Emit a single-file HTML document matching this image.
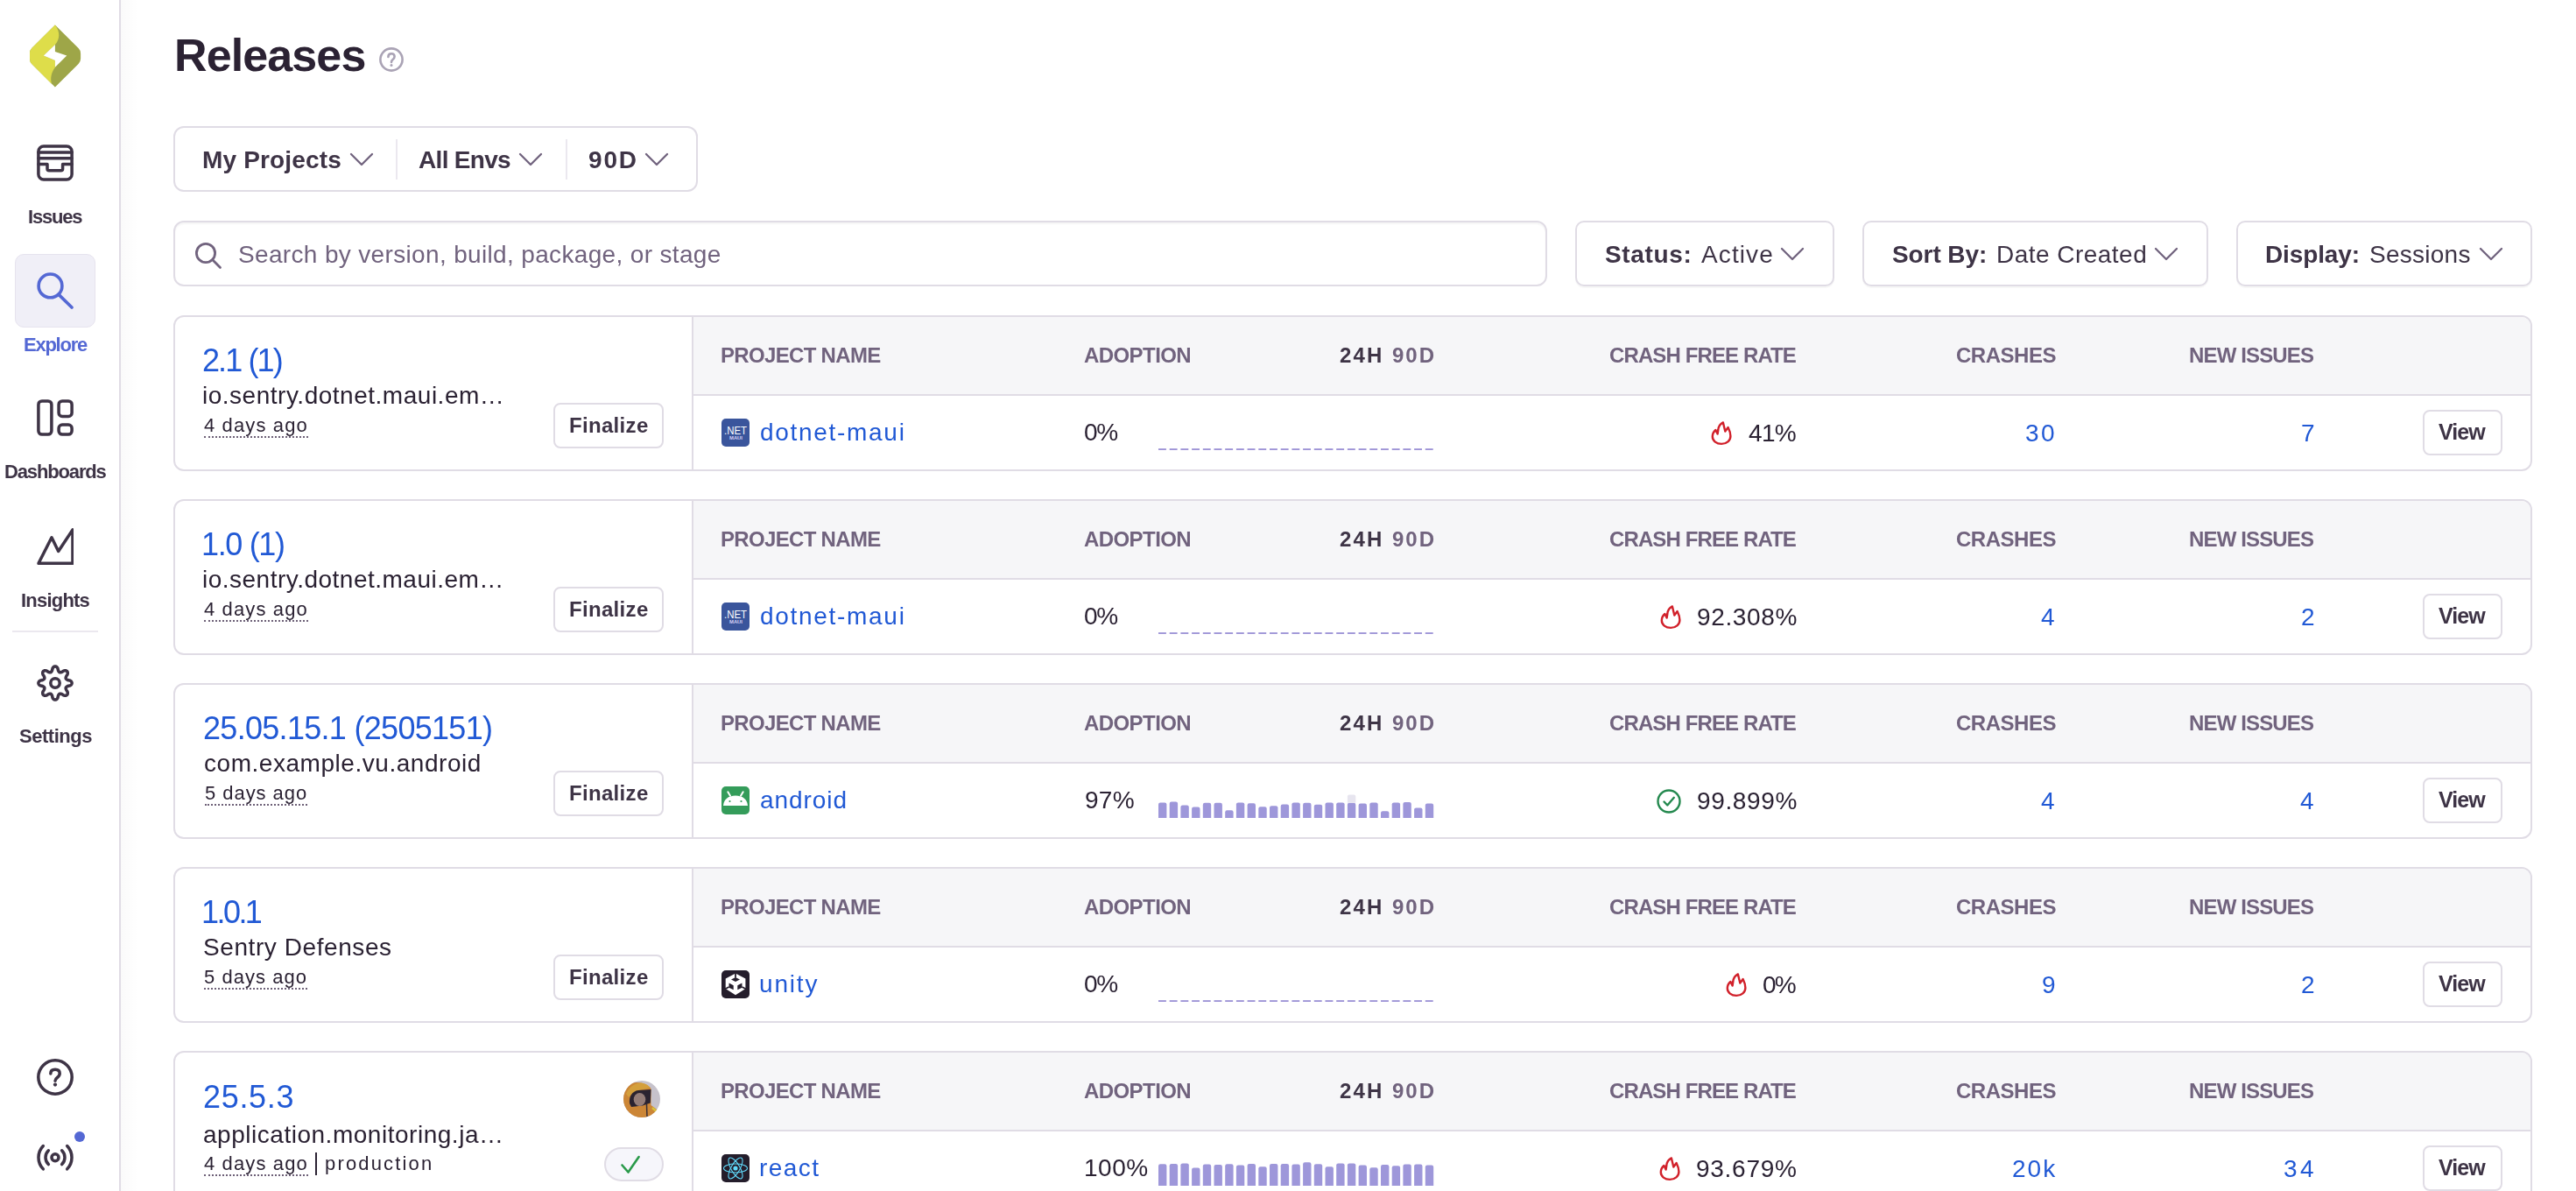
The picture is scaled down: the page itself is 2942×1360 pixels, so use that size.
<!DOCTYPE html>
    <html><head><meta charset="utf-8"><title>Releases</title>
    <style>
    html,body{margin:0;padding:0;background:#fff;}
    body{width:2942px;height:1360px;position:relative;overflow:hidden;font-family:"Liberation Sans", sans-serif;}
    .t{position:absolute;white-space:nowrap;-webkit-font-smoothing:antialiased;will-change:transform;}
    </style></head><body>
    <div style="position:absolute;left:136px;top:0px;width:2px;height:1360px;box-sizing:border-box;background:#e0dce5"></div>
<div style="position:absolute;left:138px;top:0px;width:20px;height:1360px;box-sizing:border-box;background:linear-gradient(90deg,rgba(0,0,0,0.018),rgba(0,0,0,0))"></div>
<svg style="position:absolute;left:30px;top:24px" width="66" height="80" viewBox="0 0 66 80"><path d="M32.9,4.4 L6.5,30.8 Q4,33.3 4,36.8 L4,43.2 Q4,46.7 6.5,49.2 L32.9,75.6 L59.6,49 Q62.1,46.4 62.1,43 L62.1,37 Q62.1,33.6 59.6,31.1 Z" fill="#9ea648"/><path d="M32.9,4.4 L6.5,30.8 Q4,33.3 4,36.8 L4,43.2 Q4,46.7 6.5,49.2 L29,71.7 C27.3,66 28.3,59 32.9,53 L32.9,45 L19.8,39.6 L32.9,26.9 C38.5,21 39,12 32.9,4.4 Z" fill="#dedd4a"/><path d="M32.9,26.9 L32.9,34.9 L46.3,39.6 L32.9,52.7 L32.9,45 L19.8,39.6 Z" fill="#fff"/></svg>
<svg style="position:absolute;left:42px;top:165px" width="42" height="42" viewBox="0 0 42 42"><g fill="none" stroke="#3e3446" stroke-width="3.5" stroke-linecap="round" stroke-linejoin="round"><rect x="1.9" y="1.9" width="38.2" height="38.2" rx="6"/><path d="M2,8.9H40M2,15.8H40M2,22.6H12V27.7Q12,29.7 14,29.7H27.6Q29.6,29.7 29.6,27.7V22.6H40"/></g></svg>
<div class="t" style="left:32.0px;top:237.2px;font-size:22px;line-height:22px;font-weight:700;color:#3e3446;letter-spacing:-1.200px;">Issues</div>
<div style="position:absolute;left:17px;top:290px;width:92px;height:84px;box-sizing:border-box;background:#f0eff7;border:1px solid #e6e3ee;border-radius:10px"></div>
<svg style="position:absolute;left:42px;top:311px" width="42" height="42" viewBox="0 0 42 42"><g fill="none" stroke="#5468d4" stroke-width="3.6" stroke-linecap="round"><circle cx="15.5" cy="15.4" r="13.4"/><path d="M25.3,25.6L40,40"/></g></svg>
<div class="t" style="left:26.7px;top:382.9px;font-size:22px;line-height:22px;font-weight:700;color:#5468d4;letter-spacing:-1.250px;">Explore</div>
<svg style="position:absolute;left:42px;top:456px" width="42" height="42" viewBox="0 0 42 42"><g fill="none" stroke="#3e3446" stroke-width="3.5" stroke-linecap="round" stroke-linejoin="round"><rect x="1.9" y="1.9" width="15" height="38.2" rx="4"/><rect x="25.1" y="1.9" width="15" height="17.6" rx="4"/><rect x="25.1" y="29" width="15" height="11.1" rx="4"/></g></svg>
<div class="t" style="left:5.3px;top:527.9px;font-size:22px;line-height:22px;font-weight:700;color:#3e3446;letter-spacing:-1.144px;">Dashboards</div>
<svg style="position:absolute;left:42px;top:603px" width="42" height="42" viewBox="0 0 42 42"><g fill="none" stroke="#3e3446" stroke-width="3.5" stroke-linecap="round" stroke-linejoin="round"><path d="M2,40.3L17,10.8L24.7,26.5L41,1.9V40.3Z"/></g></svg>
<div class="t" style="left:24.2px;top:674.9px;font-size:22px;line-height:22px;font-weight:700;color:#3e3446;letter-spacing:-0.786px;">Insights</div>
<div style="position:absolute;left:14px;top:720px;width:98px;height:2px;box-sizing:border-box;background:#ebe8ef"></div>
<svg style="position:absolute;left:42px;top:759px" width="42" height="42" viewBox="0 0 42 42"><g fill="none" stroke="#3e3446" stroke-width="3.5" stroke-linecap="round" stroke-linejoin="round"><path d="M21.00,1.90 L21.50,1.95 L21.99,2.10 L22.47,2.36 L22.92,2.71 L23.35,3.17 L23.73,3.74 L24.06,4.48 L24.24,5.74 L24.48,6.49 L24.73,7.08 L24.98,7.57 L25.23,7.97 L25.50,8.30 L25.78,8.54 L26.09,8.71 L26.43,8.81 L26.80,8.84 L27.22,8.79 L27.69,8.69 L28.21,8.52 L28.80,8.27 L29.50,7.91 L30.51,7.16 L31.27,6.86 L31.95,6.73 L32.57,6.71 L33.14,6.78 L33.66,6.94 L34.12,7.18 L34.51,7.49 L34.82,7.88 L35.06,8.34 L35.22,8.86 L35.29,9.43 L35.27,10.05 L35.14,10.73 L34.84,11.49 L34.09,12.50 L33.73,13.20 L33.48,13.79 L33.31,14.31 L33.21,14.78 L33.16,15.20 L33.19,15.57 L33.29,15.91 L33.46,16.22 L33.70,16.50 L34.03,16.77 L34.43,17.02 L34.92,17.27 L35.51,17.52 L36.26,17.76 L37.52,17.94 L38.26,18.27 L38.83,18.65 L39.29,19.08 L39.64,19.53 L39.90,20.01 L40.05,20.50 L40.10,21.00 L40.05,21.50 L39.90,21.99 L39.64,22.47 L39.29,22.92 L38.83,23.35 L38.26,23.73 L37.52,24.06 L36.26,24.24 L35.51,24.48 L34.92,24.73 L34.43,24.98 L34.03,25.23 L33.70,25.50 L33.46,25.78 L33.29,26.09 L33.19,26.43 L33.16,26.80 L33.21,27.22 L33.31,27.69 L33.48,28.21 L33.73,28.80 L34.09,29.50 L34.84,30.51 L35.14,31.27 L35.27,31.95 L35.29,32.57 L35.22,33.14 L35.06,33.66 L34.82,34.12 L34.51,34.51 L34.12,34.82 L33.66,35.06 L33.14,35.22 L32.57,35.29 L31.95,35.27 L31.27,35.14 L30.51,34.84 L29.50,34.09 L28.80,33.73 L28.21,33.48 L27.69,33.31 L27.22,33.21 L26.80,33.16 L26.43,33.19 L26.09,33.29 L25.78,33.46 L25.50,33.70 L25.23,34.03 L24.98,34.43 L24.73,34.92 L24.48,35.51 L24.24,36.26 L24.06,37.52 L23.73,38.26 L23.35,38.83 L22.92,39.29 L22.47,39.64 L21.99,39.90 L21.50,40.05 L21.00,40.10 L20.50,40.05 L20.01,39.90 L19.53,39.64 L19.08,39.29 L18.65,38.83 L18.27,38.26 L17.94,37.52 L17.76,36.26 L17.52,35.51 L17.27,34.92 L17.02,34.43 L16.77,34.03 L16.50,33.70 L16.22,33.46 L15.91,33.29 L15.57,33.19 L15.20,33.16 L14.78,33.21 L14.31,33.31 L13.79,33.48 L13.20,33.73 L12.50,34.09 L11.49,34.84 L10.73,35.14 L10.05,35.27 L9.43,35.29 L8.86,35.22 L8.34,35.06 L7.88,34.82 L7.49,34.51 L7.18,34.12 L6.94,33.66 L6.78,33.14 L6.71,32.57 L6.73,31.95 L6.86,31.27 L7.16,30.51 L7.91,29.50 L8.27,28.80 L8.52,28.21 L8.69,27.69 L8.79,27.22 L8.84,26.80 L8.81,26.43 L8.71,26.09 L8.54,25.78 L8.30,25.50 L7.97,25.23 L7.57,24.98 L7.08,24.73 L6.49,24.48 L5.74,24.24 L4.48,24.06 L3.74,23.73 L3.17,23.35 L2.71,22.92 L2.36,22.47 L2.10,21.99 L1.95,21.50 L1.90,21.00 L1.95,20.50 L2.10,20.01 L2.36,19.53 L2.71,19.08 L3.17,18.65 L3.74,18.27 L4.48,17.94 L5.74,17.76 L6.49,17.52 L7.08,17.27 L7.57,17.02 L7.97,16.77 L8.30,16.50 L8.54,16.22 L8.71,15.91 L8.81,15.57 L8.84,15.20 L8.79,14.78 L8.69,14.31 L8.52,13.79 L8.27,13.20 L7.91,12.50 L7.16,11.49 L6.86,10.73 L6.73,10.05 L6.71,9.43 L6.78,8.86 L6.94,8.34 L7.18,7.88 L7.49,7.49 L7.88,7.18 L8.34,6.94 L8.86,6.78 L9.43,6.71 L10.05,6.73 L10.73,6.86 L11.49,7.16 L12.50,7.91 L13.20,8.27 L13.79,8.52 L14.31,8.69 L14.78,8.79 L15.20,8.84 L15.57,8.81 L15.91,8.71 L16.22,8.54 L16.50,8.30 L16.77,7.97 L17.02,7.57 L17.27,7.08 L17.52,6.49 L17.76,5.74 L17.94,4.48 L18.27,3.74 L18.65,3.17 L19.08,2.71 L19.53,2.36 L20.01,2.10 L20.50,1.95 L21.00,1.90Z"/><circle cx="21" cy="21" r="5.2"/></g></svg>
<div class="t" style="left:21.7px;top:829.9px;font-size:22px;line-height:22px;font-weight:700;color:#3e3446;letter-spacing:-0.471px;">Settings</div>
<svg style="position:absolute;left:42px;top:1209px" width="42" height="42" viewBox="0 0 42 42"><g fill="none" stroke="#3e3446" stroke-width="3.5" stroke-linecap="round" stroke-linejoin="round"><circle cx="21" cy="21" r="19.2"/><path d="M15.8,17Q15.8,12.3 21,12.3Q26.2,12.3 26.2,16.8Q26.2,19.5 23.4,21.5Q21,23.3 21,25.3"/></g><circle cx="21" cy="29.6" r="2.1" fill="#3e3446"/></svg>
<svg style="position:absolute;left:42px;top:1306px" width="42" height="32" viewBox="0 0 42 32"><g fill="none" stroke="#3e3446" stroke-width="3.5" stroke-linecap="round" stroke-linejoin="round"><path d="M7.33,28.90A19,19 0 0 1 7.33,2.50 M13.36,23.61A11,11 0 0 1 13.36,7.79 M34.67,2.50A19,19 0 0 1 34.67,28.90 M28.64,7.79A11,11 0 0 1 28.64,23.61"/><circle cx="21" cy="15.7" r="4"/></g></svg>
<div style="position:absolute;left:85px;top:1292px;width:12px;height:12px;border-radius:50%;background:#5468d4"></div>
<div class="t" style="left:198.7px;top:37.0px;font-size:52px;line-height:52px;font-weight:700;color:#2b2233;letter-spacing:-0.886px;">Releases</div>
<svg style="position:absolute;left:432px;top:53px" width="30" height="30" viewBox="0 0 30 30"><g fill="none" stroke="#aaa3b5" stroke-width="2.6" stroke-linecap="round"><circle cx="15" cy="15" r="12.6"/><path d="M11.4,12Q11.4,8.2 15,8.2Q18.6,8.2 18.6,11.6Q18.6,13.6 16.6,15Q15,16.2 15,18"/></g><circle cx="15" cy="21.6" r="1.5" fill="#aaa3b5"/></svg>
<div style="position:absolute;left:198px;top:144px;width:599px;height:75px;box-sizing:border-box;border:2px solid #e0dce5;border-radius:12px;background:#fff"></div>
<div style="position:absolute;left:452px;top:159px;width:2px;height:46px;box-sizing:border-box;background:#ebe8ef"></div>
<div style="position:absolute;left:646px;top:159px;width:2px;height:46px;box-sizing:border-box;background:#ebe8ef"></div>
<div class="t" style="left:230.8px;top:169.1px;font-size:28px;line-height:28px;font-weight:700;color:#3e3446;letter-spacing:0.160px;">My Projects</div>
<svg style="position:absolute;left:398.6px;top:174px" width="28" height="17" viewBox="0 0 28 17"><path d="M2,2L14.0,14L26,2" fill="none" stroke="#71637e" stroke-width="2.3" stroke-linecap="round" stroke-linejoin="round"/></svg>
<div class="t" style="left:477.8px;top:169.1px;font-size:28px;line-height:28px;font-weight:700;color:#3e3446;letter-spacing:-0.686px;">All Envs</div>
<svg style="position:absolute;left:592px;top:174px" width="28" height="17" viewBox="0 0 28 17"><path d="M2,2L14.0,14L26,2" fill="none" stroke="#71637e" stroke-width="2.3" stroke-linecap="round" stroke-linejoin="round"/></svg>
<div class="t" style="left:671.6px;top:169.1px;font-size:28px;line-height:28px;font-weight:700;color:#3e3446;letter-spacing:1.850px;">90D</div>
<svg style="position:absolute;left:735.5px;top:174px" width="28" height="17" viewBox="0 0 28 17"><path d="M2,2L14.0,14L26,2" fill="none" stroke="#71637e" stroke-width="2.3" stroke-linecap="round" stroke-linejoin="round"/></svg>
<div style="position:absolute;left:198px;top:252px;width:1569px;height:75px;box-sizing:border-box;border:2px solid #e0dce5;border-radius:12px;background:#fff;box-shadow:inset 0 2px 2px rgba(0,0,0,0.04)"></div>
<svg style="position:absolute;left:222px;top:276px" width="32" height="32" viewBox="0 0 32 32"><g fill="none" stroke="#71637e" stroke-width="2.8" stroke-linecap="round"><circle cx="13" cy="13" r="10.6"/><path d="M20.8,20.8L29.5,29.5"/></g></svg>
<div class="t" style="left:271.8px;top:276.9px;font-size:28px;line-height:28px;font-weight:400;color:#71637e;letter-spacing:0.342px;">Search by version, build, package, or stage</div>
<div style="position:absolute;left:1799px;top:252px;width:296px;height:75px;box-sizing:border-box;border:2px solid #e0dce5;border-radius:10px;background:#fff;box-shadow:0 2px 0 rgba(0,0,0,0.03)"></div>
<div class="t" style="left:1832.5px;top:276.5px;font-size:28px;line-height:28px;font-weight:700;color:#3e3446;letter-spacing:0.667px;">Status:</div>
<div class="t" style="left:1943.0px;top:276.5px;font-size:28px;line-height:28px;font-weight:400;color:#3e3446;letter-spacing:1.100px;">Active</div>
<svg style="position:absolute;left:2033.4px;top:281.5px" width="28" height="17" viewBox="0 0 28 17"><path d="M2,2L14.0,14L26,2" fill="none" stroke="#71637e" stroke-width="2.3" stroke-linecap="round" stroke-linejoin="round"/></svg>
<div style="position:absolute;left:2127px;top:252px;width:395px;height:75px;box-sizing:border-box;border:2px solid #e0dce5;border-radius:10px;background:#fff;box-shadow:0 2px 0 rgba(0,0,0,0.03)"></div>
<div class="t" style="left:2160.9px;top:276.5px;font-size:28px;line-height:28px;font-weight:700;color:#3e3446;letter-spacing:-0.086px;">Sort By:</div>
<div class="t" style="left:2280.3px;top:276.5px;font-size:28px;line-height:28px;font-weight:400;color:#3e3446;letter-spacing:0.473px;">Date Created</div>
<svg style="position:absolute;left:2460.4px;top:281.5px" width="28" height="17" viewBox="0 0 28 17"><path d="M2,2L14.0,14L26,2" fill="none" stroke="#71637e" stroke-width="2.3" stroke-linecap="round" stroke-linejoin="round"/></svg>
<div style="position:absolute;left:2554px;top:252px;width:338px;height:75px;box-sizing:border-box;border:2px solid #e0dce5;border-radius:10px;background:#fff;box-shadow:0 2px 0 rgba(0,0,0,0.03)"></div>
<div class="t" style="left:2587.4px;top:276.5px;font-size:28px;line-height:28px;font-weight:700;color:#3e3446;letter-spacing:-0.129px;">Display:</div>
<div class="t" style="left:2706.4px;top:276.5px;font-size:28px;line-height:28px;font-weight:400;color:#3e3446;letter-spacing:0.257px;">Sessions</div>
<svg style="position:absolute;left:2830.7px;top:281.5px" width="28" height="17" viewBox="0 0 28 17"><path d="M2,2L14.0,14L26,2" fill="none" stroke="#71637e" stroke-width="2.3" stroke-linecap="round" stroke-linejoin="round"/></svg>
<div style="position:absolute;left:198px;top:360px;width:2694px;height:178px;box-sizing:border-box;border:2px solid #e0dce5;border-radius:12px;background:#fff"></div>
<div style="position:absolute;left:792px;top:362px;width:2098px;height:88px;box-sizing:border-box;background:#f6f6f8;border-top-right-radius:10px"></div>
<div style="position:absolute;left:790px;top:362px;width:2px;height:174px;box-sizing:border-box;background:#e0dce5"></div>
<div style="position:absolute;left:792px;top:450px;width:2098px;height:2px;box-sizing:border-box;background:#e0dce5"></div>
<div class="t" style="left:230.6px;top:393.6px;font-size:36px;line-height:36px;font-weight:400;color:#2159d5;letter-spacing:-1.900px;">2.1 (1)</div>
<div class="t" style="left:230.6px;top:438.0px;font-size:28px;line-height:28px;font-weight:400;color:#2b2233;letter-spacing:0.513px;">io.sentry.dotnet.maui.em…</div>
<div class="t" style="left:232.6px;top:474.9px;font-size:22px;line-height:22px;font-weight:400;color:#2b2233;letter-spacing:1.122px;"><span style="border-bottom:2px dotted #6e6178;padding-bottom:0px">4 days ago</span></div>
<div style="position:absolute;left:632px;top:460px;width:126px;height:52px;box-sizing:border-box;border:2px solid #e0dce5;border-radius:8px;background:#fff"></div>
<div class="t" style="left:649.6px;top:473.7px;font-size:24px;line-height:24px;font-weight:700;color:#3e3446;letter-spacing:0.321px;">Finalize</div>
<div class="t" style="left:823.4px;top:394.3px;font-size:24px;line-height:24px;font-weight:700;color:#71637e;letter-spacing:-0.677px;">PROJECT NAME</div>
<div class="t" style="left:1237.8px;top:394.3px;font-size:24px;line-height:24px;font-weight:700;color:#71637e;letter-spacing:-0.571px;">ADOPTION</div>
<div class="t" style="left:1529.7px;top:394.3px;font-size:24px;line-height:24px;font-weight:700;color:#3e3446;letter-spacing:2.100px;">24H</div>
<div class="t" style="left:1589.7px;top:394.3px;font-size:24px;line-height:24px;font-weight:700;color:#71637e;letter-spacing:2.000px;">90D</div>
<div class="t" style="left:1838.0px;top:394.3px;font-size:24px;line-height:24px;font-weight:700;color:#71637e;letter-spacing:-0.886px;">CRASH FREE RATE</div>
<div class="t" style="left:2234.0px;top:394.3px;font-size:24px;line-height:24px;font-weight:700;color:#71637e;letter-spacing:-0.483px;">CRASHES</div>
<div class="t" style="left:2499.7px;top:394.3px;font-size:24px;line-height:24px;font-weight:700;color:#71637e;letter-spacing:-0.856px;">NEW ISSUES</div>
<svg style="position:absolute;left:824px;top:478px" width="32" height="32" viewBox="0 0 32 32"><rect width="32" height="32" rx="5" fill="#3a559c"/><text x="3" y="17.7" font-family="Liberation Sans" font-size="13.5" textLength="26" lengthAdjust="spacingAndGlyphs" fill="#fff">.NET</text><text x="9" y="24.2" font-family="Liberation Sans" font-weight="700" font-size="4.6" textLength="15" lengthAdjust="spacingAndGlyphs" fill="#d6d0f4">MAUI</text></svg>
<div class="t" style="left:868.0px;top:479.8px;font-size:28px;line-height:28px;font-weight:400;color:#2159d5;letter-spacing:1.700px;">dotnet-maui</div>
<div class="t" style="left:1237.8px;top:480.0px;font-size:28px;line-height:28px;font-weight:400;color:#2b2233;letter-spacing:-1.400px;">0%</div>
<svg style="position:absolute;left:1323px;top:512px" width="316" height="2"><rect x="0.00" y="0.2" width="8.9" height="1.7" fill="#958ad3"/><rect x="12.70" y="0.2" width="8.9" height="1.7" fill="#958ad3"/><rect x="25.40" y="0.2" width="8.9" height="1.7" fill="#958ad3"/><rect x="38.10" y="0.2" width="8.9" height="1.7" fill="#958ad3"/><rect x="50.80" y="0.2" width="8.9" height="1.7" fill="#958ad3"/><rect x="63.50" y="0.2" width="8.9" height="1.7" fill="#958ad3"/><rect x="76.20" y="0.2" width="8.9" height="1.7" fill="#958ad3"/><rect x="88.90" y="0.2" width="8.9" height="1.7" fill="#958ad3"/><rect x="101.60" y="0.2" width="8.9" height="1.7" fill="#958ad3"/><rect x="114.30" y="0.2" width="8.9" height="1.7" fill="#958ad3"/><rect x="127.00" y="0.2" width="8.9" height="1.7" fill="#958ad3"/><rect x="139.70" y="0.2" width="8.9" height="1.7" fill="#958ad3"/><rect x="152.40" y="0.2" width="8.9" height="1.7" fill="#958ad3"/><rect x="165.10" y="0.2" width="8.9" height="1.7" fill="#958ad3"/><rect x="177.80" y="0.2" width="8.9" height="1.7" fill="#958ad3"/><rect x="190.50" y="0.2" width="8.9" height="1.7" fill="#958ad3"/><rect x="203.20" y="0.2" width="8.9" height="1.7" fill="#958ad3"/><rect x="215.90" y="0.2" width="8.9" height="1.7" fill="#958ad3"/><rect x="228.60" y="0.2" width="8.9" height="1.7" fill="#958ad3"/><rect x="241.30" y="0.2" width="8.9" height="1.7" fill="#958ad3"/><rect x="254.00" y="0.2" width="8.9" height="1.7" fill="#958ad3"/><rect x="266.70" y="0.2" width="8.9" height="1.7" fill="#958ad3"/><rect x="279.40" y="0.2" width="8.9" height="1.7" fill="#958ad3"/><rect x="292.10" y="0.2" width="8.9" height="1.7" fill="#958ad3"/><rect x="304.80" y="0.2" width="8.9" height="1.7" fill="#958ad3"/></svg>
<div class="t" style="left:1996.8px;top:481.0px;font-size:28px;line-height:28px;font-weight:400;color:#2b2233;letter-spacing:-0.650px;">41%</div>
<svg style="position:absolute;left:1954px;top:480px" width="24" height="29" viewBox="0 0 24 29"><path d="M13.9,2.4 C10.3,4.2 8.6,7.5 8.3,11 L7.6,15.6 L5.4,11 C2.8,13.2 1.8,15.8 1.8,18.6 C1.8,23.5 6.4,26.9 12.1,26.9 C17.9,26.9 22.4,23.1 22.4,18 C22.4,14.2 21.2,11.2 19.6,8 L16.3,12.6 Z" fill="none" stroke="#d1202a" stroke-width="2.4" stroke-linejoin="round"/></svg>
<div class="t" style="left:2313.2px;top:481.0px;font-size:28px;line-height:28px;font-weight:400;color:#2159d5;letter-spacing:2.400px;">30</div>
<div class="t" style="left:2627.8px;top:481.0px;font-size:28px;line-height:28px;font-weight:400;color:#2159d5;letter-spacing:0.300px;">7</div>
<div style="position:absolute;left:2767px;top:468px;width:91px;height:52px;box-sizing:border-box;border:2px solid #e0dce5;border-radius:8px;background:#fff"></div>
<div class="t" style="left:2785.1px;top:480.8px;font-size:25px;line-height:25px;font-weight:700;color:#3e3446;letter-spacing:-0.967px;">View</div>
<div style="position:absolute;left:198px;top:570px;width:2694px;height:178px;box-sizing:border-box;border:2px solid #e0dce5;border-radius:12px;background:#fff"></div>
<div style="position:absolute;left:792px;top:572px;width:2098px;height:88px;box-sizing:border-box;background:#f6f6f8;border-top-right-radius:10px"></div>
<div style="position:absolute;left:790px;top:572px;width:2px;height:174px;box-sizing:border-box;background:#e0dce5"></div>
<div style="position:absolute;left:792px;top:660px;width:2098px;height:2px;box-sizing:border-box;background:#e0dce5"></div>
<div class="t" style="left:229.9px;top:603.6px;font-size:36px;line-height:36px;font-weight:400;color:#2159d5;letter-spacing:-1.333px;">1.0 (1)</div>
<div class="t" style="left:230.9px;top:648.0px;font-size:28px;line-height:28px;font-weight:400;color:#2b2233;letter-spacing:0.492px;">io.sentry.dotnet.maui.em…</div>
<div class="t" style="left:232.6px;top:684.9px;font-size:22px;line-height:22px;font-weight:400;color:#2b2233;letter-spacing:1.122px;"><span style="border-bottom:2px dotted #6e6178;padding-bottom:0px">4 days ago</span></div>
<div style="position:absolute;left:632px;top:670px;width:126px;height:52px;box-sizing:border-box;border:2px solid #e0dce5;border-radius:8px;background:#fff"></div>
<div class="t" style="left:649.6px;top:683.7px;font-size:24px;line-height:24px;font-weight:700;color:#3e3446;letter-spacing:0.321px;">Finalize</div>
<div class="t" style="left:823.4px;top:604.3px;font-size:24px;line-height:24px;font-weight:700;color:#71637e;letter-spacing:-0.677px;">PROJECT NAME</div>
<div class="t" style="left:1237.8px;top:604.3px;font-size:24px;line-height:24px;font-weight:700;color:#71637e;letter-spacing:-0.571px;">ADOPTION</div>
<div class="t" style="left:1529.7px;top:604.3px;font-size:24px;line-height:24px;font-weight:700;color:#3e3446;letter-spacing:2.100px;">24H</div>
<div class="t" style="left:1589.7px;top:604.3px;font-size:24px;line-height:24px;font-weight:700;color:#71637e;letter-spacing:2.000px;">90D</div>
<div class="t" style="left:1838.0px;top:604.3px;font-size:24px;line-height:24px;font-weight:700;color:#71637e;letter-spacing:-0.886px;">CRASH FREE RATE</div>
<div class="t" style="left:2234.0px;top:604.3px;font-size:24px;line-height:24px;font-weight:700;color:#71637e;letter-spacing:-0.483px;">CRASHES</div>
<div class="t" style="left:2499.7px;top:604.3px;font-size:24px;line-height:24px;font-weight:700;color:#71637e;letter-spacing:-0.856px;">NEW ISSUES</div>
<svg style="position:absolute;left:824px;top:688px" width="32" height="32" viewBox="0 0 32 32"><rect width="32" height="32" rx="5" fill="#3a559c"/><text x="3" y="17.7" font-family="Liberation Sans" font-size="13.5" textLength="26" lengthAdjust="spacingAndGlyphs" fill="#fff">.NET</text><text x="9" y="24.2" font-family="Liberation Sans" font-weight="700" font-size="4.6" textLength="15" lengthAdjust="spacingAndGlyphs" fill="#d6d0f4">MAUI</text></svg>
<div class="t" style="left:868.0px;top:689.8px;font-size:28px;line-height:28px;font-weight:400;color:#2159d5;letter-spacing:1.700px;">dotnet-maui</div>
<div class="t" style="left:1237.8px;top:690.0px;font-size:28px;line-height:28px;font-weight:400;color:#2b2233;letter-spacing:-1.400px;">0%</div>
<svg style="position:absolute;left:1323px;top:722px" width="316" height="2"><rect x="0.00" y="0.2" width="8.9" height="1.7" fill="#958ad3"/><rect x="12.70" y="0.2" width="8.9" height="1.7" fill="#958ad3"/><rect x="25.40" y="0.2" width="8.9" height="1.7" fill="#958ad3"/><rect x="38.10" y="0.2" width="8.9" height="1.7" fill="#958ad3"/><rect x="50.80" y="0.2" width="8.9" height="1.7" fill="#958ad3"/><rect x="63.50" y="0.2" width="8.9" height="1.7" fill="#958ad3"/><rect x="76.20" y="0.2" width="8.9" height="1.7" fill="#958ad3"/><rect x="88.90" y="0.2" width="8.9" height="1.7" fill="#958ad3"/><rect x="101.60" y="0.2" width="8.9" height="1.7" fill="#958ad3"/><rect x="114.30" y="0.2" width="8.9" height="1.7" fill="#958ad3"/><rect x="127.00" y="0.2" width="8.9" height="1.7" fill="#958ad3"/><rect x="139.70" y="0.2" width="8.9" height="1.7" fill="#958ad3"/><rect x="152.40" y="0.2" width="8.9" height="1.7" fill="#958ad3"/><rect x="165.10" y="0.2" width="8.9" height="1.7" fill="#958ad3"/><rect x="177.80" y="0.2" width="8.9" height="1.7" fill="#958ad3"/><rect x="190.50" y="0.2" width="8.9" height="1.7" fill="#958ad3"/><rect x="203.20" y="0.2" width="8.9" height="1.7" fill="#958ad3"/><rect x="215.90" y="0.2" width="8.9" height="1.7" fill="#958ad3"/><rect x="228.60" y="0.2" width="8.9" height="1.7" fill="#958ad3"/><rect x="241.30" y="0.2" width="8.9" height="1.7" fill="#958ad3"/><rect x="254.00" y="0.2" width="8.9" height="1.7" fill="#958ad3"/><rect x="266.70" y="0.2" width="8.9" height="1.7" fill="#958ad3"/><rect x="279.40" y="0.2" width="8.9" height="1.7" fill="#958ad3"/><rect x="292.10" y="0.2" width="8.9" height="1.7" fill="#958ad3"/><rect x="304.80" y="0.2" width="8.9" height="1.7" fill="#958ad3"/></svg>
<div class="t" style="left:1937.5px;top:691.0px;font-size:28px;line-height:28px;font-weight:400;color:#2b2233;letter-spacing:0.650px;">92.308%</div>
<svg style="position:absolute;left:1896px;top:690px" width="24" height="29" viewBox="0 0 24 29"><path d="M13.9,2.4 C10.3,4.2 8.6,7.5 8.3,11 L7.6,15.6 L5.4,11 C2.8,13.2 1.8,15.8 1.8,18.6 C1.8,23.5 6.4,26.9 12.1,26.9 C17.9,26.9 22.4,23.1 22.4,18 C22.4,14.2 21.2,11.2 19.6,8 L16.3,12.6 Z" fill="none" stroke="#d1202a" stroke-width="2.4" stroke-linejoin="round"/></svg>
<div class="t" style="left:2331.0px;top:691.0px;font-size:28px;line-height:28px;font-weight:400;color:#2159d5;letter-spacing:0.300px;">4</div>
<div class="t" style="left:2627.8px;top:691.0px;font-size:28px;line-height:28px;font-weight:400;color:#2159d5;letter-spacing:0.300px;">2</div>
<div style="position:absolute;left:2767px;top:678px;width:91px;height:52px;box-sizing:border-box;border:2px solid #e0dce5;border-radius:8px;background:#fff"></div>
<div class="t" style="left:2785.1px;top:690.8px;font-size:25px;line-height:25px;font-weight:700;color:#3e3446;letter-spacing:-0.967px;">View</div>
<div style="position:absolute;left:198px;top:780px;width:2694px;height:178px;box-sizing:border-box;border:2px solid #e0dce5;border-radius:12px;background:#fff"></div>
<div style="position:absolute;left:792px;top:782px;width:2098px;height:88px;box-sizing:border-box;background:#f6f6f8;border-top-right-radius:10px"></div>
<div style="position:absolute;left:790px;top:782px;width:2px;height:174px;box-sizing:border-box;background:#e0dce5"></div>
<div style="position:absolute;left:792px;top:870px;width:2098px;height:2px;box-sizing:border-box;background:#e0dce5"></div>
<div class="t" style="left:231.5px;top:813.6px;font-size:36px;line-height:36px;font-weight:400;color:#2159d5;letter-spacing:-0.700px;">25.05.15.1 (2505151)</div>
<div class="t" style="left:232.5px;top:858.0px;font-size:28px;line-height:28px;font-weight:400;color:#2b2233;letter-spacing:0.540px;">com.example.vu.android</div>
<div class="t" style="left:233.5px;top:894.9px;font-size:22px;line-height:22px;font-weight:400;color:#2b2233;letter-spacing:0.956px;"><span style="border-bottom:2px dotted #6e6178;padding-bottom:0px">5 days ago</span></div>
<div style="position:absolute;left:632px;top:880px;width:126px;height:52px;box-sizing:border-box;border:2px solid #e0dce5;border-radius:8px;background:#fff"></div>
<div class="t" style="left:649.6px;top:893.7px;font-size:24px;line-height:24px;font-weight:700;color:#3e3446;letter-spacing:0.321px;">Finalize</div>
<div class="t" style="left:823.4px;top:814.3px;font-size:24px;line-height:24px;font-weight:700;color:#71637e;letter-spacing:-0.677px;">PROJECT NAME</div>
<div class="t" style="left:1237.8px;top:814.3px;font-size:24px;line-height:24px;font-weight:700;color:#71637e;letter-spacing:-0.571px;">ADOPTION</div>
<div class="t" style="left:1529.7px;top:814.3px;font-size:24px;line-height:24px;font-weight:700;color:#3e3446;letter-spacing:2.100px;">24H</div>
<div class="t" style="left:1589.7px;top:814.3px;font-size:24px;line-height:24px;font-weight:700;color:#71637e;letter-spacing:2.000px;">90D</div>
<div class="t" style="left:1838.0px;top:814.3px;font-size:24px;line-height:24px;font-weight:700;color:#71637e;letter-spacing:-0.886px;">CRASH FREE RATE</div>
<div class="t" style="left:2234.0px;top:814.3px;font-size:24px;line-height:24px;font-weight:700;color:#71637e;letter-spacing:-0.483px;">CRASHES</div>
<div class="t" style="left:2499.7px;top:814.3px;font-size:24px;line-height:24px;font-weight:700;color:#71637e;letter-spacing:-0.856px;">NEW ISSUES</div>
<svg style="position:absolute;left:824px;top:898px" width="32" height="32" viewBox="0 0 32 32"><rect width="32" height="32" rx="5" fill="#349c5a"/><path d="M2,22 Q3,11 16,10.5 Q29,11 30,22Z" fill="#fff"/><path d="M7.3,6.3L10,10.8M24.7,6.3L22,10.8" stroke="#fff" stroke-width="2" stroke-linecap="round"/><circle cx="9.5" cy="17" r="1.1" fill="#349c5a"/><circle cx="22.5" cy="17" r="1.1" fill="#349c5a"/></svg>
<div class="t" style="left:867.6px;top:899.8px;font-size:28px;line-height:28px;font-weight:400;color:#2159d5;letter-spacing:0.950px;">android</div>
<div class="t" style="left:1238.6px;top:900.0px;font-size:28px;line-height:28px;font-weight:400;color:#2b2233;letter-spacing:0.300px;">97%</div>
<svg style="position:absolute;left:1323px;top:909.7px;overflow:visible" width="316" height="24"><path d="M0.00,24V8.61Q0.00,6.41 2.20,6.41H7.20Q9.40,6.41 9.40,8.61V24Z" fill="#9e97da"/><path d="M12.70,24V7.76Q12.70,5.56 14.90,5.56H19.90Q22.10,5.56 22.10,7.76V24Z" fill="#9e97da"/><path d="M25.40,24V11.69Q25.40,9.49 27.60,9.49H32.60Q34.80,9.49 34.80,11.69V24Z" fill="#9e97da"/><path d="M38.10,24V13.74Q38.10,11.54 40.30,11.54H45.30Q47.50,11.54 47.50,13.74V24Z" fill="#9e97da"/><path d="M50.80,24V8.96Q50.80,6.76 53.00,6.76H58.00Q60.20,6.76 60.20,8.96V24Z" fill="#9e97da"/><path d="M63.50,24V8.96Q63.50,6.76 65.70,6.76H70.70Q72.90,6.76 72.90,8.96V24Z" fill="#9e97da"/><path d="M76.20,24V17.50Q76.20,15.30 78.40,15.30H83.40Q85.60,15.30 85.60,17.50V24Z" fill="#9e97da"/><path d="M88.90,24V8.61Q88.90,6.41 91.10,6.41H96.10Q98.30,6.41 98.30,8.61V24Z" fill="#9e97da"/><path d="M101.60,24V9.47Q101.60,7.27 103.80,7.27H108.80Q111.00,7.27 111.00,9.47V24Z" fill="#9e97da"/><path d="M114.30,24V13.40Q114.30,11.20 116.50,11.20H121.50Q123.70,11.20 123.70,13.40V24Z" fill="#9e97da"/><path d="M127.00,24V12.37Q127.00,10.17 129.20,10.17H134.20Q136.40,10.17 136.40,12.37V24Z" fill="#9e97da"/><path d="M139.70,24V10.66Q139.70,8.46 141.90,8.46H146.90Q149.10,8.46 149.10,10.66V24Z" fill="#9e97da"/><path d="M152.40,24V8.61Q152.40,6.41 154.60,6.41H159.60Q161.80,6.41 161.80,8.61V24Z" fill="#9e97da"/><path d="M165.10,24V8.96Q165.10,6.76 167.30,6.76H172.30Q174.50,6.76 174.50,8.96V24Z" fill="#9e97da"/><path d="M177.80,24V10.83Q177.80,8.63 180.00,8.63H185.00Q187.20,8.63 187.20,10.83V24Z" fill="#9e97da"/><path d="M190.50,24V8.61Q190.50,6.41 192.70,6.41H197.70Q199.90,6.41 199.90,8.61V24Z" fill="#9e97da"/><path d="M203.20,24V8.61Q203.20,6.41 205.40,6.41H210.40Q212.60,6.41 212.60,8.61V24Z" fill="#9e97da"/><path d="M215.90,24V8.96Q215.90,6.76 218.10,6.76H223.10Q225.30,6.76 225.30,8.96V24Z" fill="#9e97da"/><path d="M215.90,6.76V-0.50Q215.90,-2.50 217.90,-2.50H223.30Q225.30,-2.50 225.30,-0.50V6.76Z" fill="#e7e5ef"/><path d="M228.60,24V9.81Q228.60,7.61 230.80,7.61H235.80Q238.00,7.61 238.00,9.81V24Z" fill="#9e97da"/><path d="M241.30,24V8.61Q241.30,6.41 243.50,6.41H248.50Q250.70,6.41 250.70,8.61V24Z" fill="#9e97da"/><path d="M254.00,24V18.35Q254.00,16.15 256.20,16.15H261.20Q263.40,16.15 263.40,18.35V24Z" fill="#9e97da"/><path d="M266.70,24V8.61Q266.70,6.41 268.90,6.41H273.90Q276.10,6.41 276.10,8.61V24Z" fill="#9e97da"/><path d="M279.40,24V8.10Q279.40,5.90 281.60,5.90H286.60Q288.80,5.90 288.80,8.10V24Z" fill="#9e97da"/><path d="M292.10,24V14.59Q292.10,12.39 294.30,12.39H299.30Q301.50,12.39 301.50,14.59V24Z" fill="#9e97da"/><path d="M304.80,24V9.81Q304.80,7.61 307.00,7.61H312.00Q314.20,7.61 314.20,9.81V24Z" fill="#9e97da"/></svg>
<div class="t" style="left:1937.5px;top:901.0px;font-size:28px;line-height:28px;font-weight:400;color:#2b2233;letter-spacing:0.650px;">99.899%</div>
<svg style="position:absolute;left:1892px;top:901px" width="28" height="28" viewBox="0 0 28 28"><circle cx="14" cy="14" r="12.5" fill="none" stroke="#25894f" stroke-width="2.4"/><path d="M8.5,14.5L12.3,18.5L19.8,9.8" fill="none" stroke="#25894f" stroke-width="2.4" stroke-linecap="round" stroke-linejoin="round"/></svg>
<div class="t" style="left:2331.0px;top:901.0px;font-size:28px;line-height:28px;font-weight:400;color:#2159d5;letter-spacing:0.300px;">4</div>
<div class="t" style="left:2626.8px;top:901.0px;font-size:28px;line-height:28px;font-weight:400;color:#2159d5;letter-spacing:0.300px;">4</div>
<div style="position:absolute;left:2767px;top:888px;width:91px;height:52px;box-sizing:border-box;border:2px solid #e0dce5;border-radius:8px;background:#fff"></div>
<div class="t" style="left:2785.1px;top:900.8px;font-size:25px;line-height:25px;font-weight:700;color:#3e3446;letter-spacing:-0.967px;">View</div>
<div style="position:absolute;left:198px;top:990px;width:2694px;height:178px;box-sizing:border-box;border:2px solid #e0dce5;border-radius:12px;background:#fff"></div>
<div style="position:absolute;left:792px;top:992px;width:2098px;height:88px;box-sizing:border-box;background:#f6f6f8;border-top-right-radius:10px"></div>
<div style="position:absolute;left:790px;top:992px;width:2px;height:174px;box-sizing:border-box;background:#e0dce5"></div>
<div style="position:absolute;left:792px;top:1080px;width:2098px;height:2px;box-sizing:border-box;background:#e0dce5"></div>
<div class="t" style="left:229.9px;top:1023.6px;font-size:36px;line-height:36px;font-weight:400;color:#2159d5;letter-spacing:-2.550px;">1.0.1</div>
<div class="t" style="left:231.9px;top:1068.0px;font-size:28px;line-height:28px;font-weight:400;color:#2b2233;letter-spacing:0.579px;">Sentry Defenses</div>
<div class="t" style="left:232.9px;top:1104.9px;font-size:22px;line-height:22px;font-weight:400;color:#2b2233;letter-spacing:1.033px;"><span style="border-bottom:2px dotted #6e6178;padding-bottom:0px">5 days ago</span></div>
<div style="position:absolute;left:632px;top:1090px;width:126px;height:52px;box-sizing:border-box;border:2px solid #e0dce5;border-radius:8px;background:#fff"></div>
<div class="t" style="left:649.6px;top:1103.7px;font-size:24px;line-height:24px;font-weight:700;color:#3e3446;letter-spacing:0.321px;">Finalize</div>
<div class="t" style="left:823.4px;top:1024.3px;font-size:24px;line-height:24px;font-weight:700;color:#71637e;letter-spacing:-0.677px;">PROJECT NAME</div>
<div class="t" style="left:1237.8px;top:1024.3px;font-size:24px;line-height:24px;font-weight:700;color:#71637e;letter-spacing:-0.571px;">ADOPTION</div>
<div class="t" style="left:1529.7px;top:1024.3px;font-size:24px;line-height:24px;font-weight:700;color:#3e3446;letter-spacing:2.100px;">24H</div>
<div class="t" style="left:1589.7px;top:1024.3px;font-size:24px;line-height:24px;font-weight:700;color:#71637e;letter-spacing:2.000px;">90D</div>
<div class="t" style="left:1838.0px;top:1024.3px;font-size:24px;line-height:24px;font-weight:700;color:#71637e;letter-spacing:-0.886px;">CRASH FREE RATE</div>
<div class="t" style="left:2234.0px;top:1024.3px;font-size:24px;line-height:24px;font-weight:700;color:#71637e;letter-spacing:-0.483px;">CRASHES</div>
<div class="t" style="left:2499.7px;top:1024.3px;font-size:24px;line-height:24px;font-weight:700;color:#71637e;letter-spacing:-0.856px;">NEW ISSUES</div>
<svg style="position:absolute;left:824px;top:1108px" width="32" height="32" viewBox="0 0 32 32"><rect width="32" height="32" rx="5" fill="#241d2b"/><path d="M16,3.5L27.4,9.6V20.9L16,28.2L4.7,20.9V9.6Z" fill="#fff"/><path d="M16,7.9L21,10.5L16,13.1L11,10.5Z" fill="#241d2b"/><path d="M8.6,14.4L13.7,17.3V22.2L8.4,19.8Z M23.4,14.4L18.3,17.3V22.2L23.6,19.8Z" fill="#241d2b"/><path d="M16,3V8.6" stroke="#241d2b" stroke-width="1.8"/><path d="M4.2,21.2L8.6,18.9M27.8,21.2L23.4,18.9" stroke="#241d2b" stroke-width="1.7"/></svg>
<div class="t" style="left:867.1px;top:1109.8px;font-size:28px;line-height:28px;font-weight:400;color:#2159d5;letter-spacing:1.825px;">unity</div>
<div class="t" style="left:1237.8px;top:1110.0px;font-size:28px;line-height:28px;font-weight:400;color:#2b2233;letter-spacing:-1.400px;">0%</div>
<svg style="position:absolute;left:1323px;top:1142px" width="316" height="2"><rect x="0.00" y="0.2" width="8.9" height="1.7" fill="#958ad3"/><rect x="12.70" y="0.2" width="8.9" height="1.7" fill="#958ad3"/><rect x="25.40" y="0.2" width="8.9" height="1.7" fill="#958ad3"/><rect x="38.10" y="0.2" width="8.9" height="1.7" fill="#958ad3"/><rect x="50.80" y="0.2" width="8.9" height="1.7" fill="#958ad3"/><rect x="63.50" y="0.2" width="8.9" height="1.7" fill="#958ad3"/><rect x="76.20" y="0.2" width="8.9" height="1.7" fill="#958ad3"/><rect x="88.90" y="0.2" width="8.9" height="1.7" fill="#958ad3"/><rect x="101.60" y="0.2" width="8.9" height="1.7" fill="#958ad3"/><rect x="114.30" y="0.2" width="8.9" height="1.7" fill="#958ad3"/><rect x="127.00" y="0.2" width="8.9" height="1.7" fill="#958ad3"/><rect x="139.70" y="0.2" width="8.9" height="1.7" fill="#958ad3"/><rect x="152.40" y="0.2" width="8.9" height="1.7" fill="#958ad3"/><rect x="165.10" y="0.2" width="8.9" height="1.7" fill="#958ad3"/><rect x="177.80" y="0.2" width="8.9" height="1.7" fill="#958ad3"/><rect x="190.50" y="0.2" width="8.9" height="1.7" fill="#958ad3"/><rect x="203.20" y="0.2" width="8.9" height="1.7" fill="#958ad3"/><rect x="215.90" y="0.2" width="8.9" height="1.7" fill="#958ad3"/><rect x="228.60" y="0.2" width="8.9" height="1.7" fill="#958ad3"/><rect x="241.30" y="0.2" width="8.9" height="1.7" fill="#958ad3"/><rect x="254.00" y="0.2" width="8.9" height="1.7" fill="#958ad3"/><rect x="266.70" y="0.2" width="8.9" height="1.7" fill="#958ad3"/><rect x="279.40" y="0.2" width="8.9" height="1.7" fill="#958ad3"/><rect x="292.10" y="0.2" width="8.9" height="1.7" fill="#958ad3"/><rect x="304.80" y="0.2" width="8.9" height="1.7" fill="#958ad3"/></svg>
<div class="t" style="left:2013.3px;top:1111.0px;font-size:28px;line-height:28px;font-weight:400;color:#2b2233;letter-spacing:-1.700px;">0%</div>
<svg style="position:absolute;left:1971px;top:1110px" width="24" height="29" viewBox="0 0 24 29"><path d="M13.9,2.4 C10.3,4.2 8.6,7.5 8.3,11 L7.6,15.6 L5.4,11 C2.8,13.2 1.8,15.8 1.8,18.6 C1.8,23.5 6.4,26.9 12.1,26.9 C17.9,26.9 22.4,23.1 22.4,18 C22.4,14.2 21.2,11.2 19.6,8 L16.3,12.6 Z" fill="none" stroke="#d1202a" stroke-width="2.4" stroke-linejoin="round"/></svg>
<div class="t" style="left:2331.9px;top:1111.0px;font-size:28px;line-height:28px;font-weight:400;color:#2159d5;letter-spacing:0.300px;">9</div>
<div class="t" style="left:2627.5px;top:1111.0px;font-size:28px;line-height:28px;font-weight:400;color:#2159d5;letter-spacing:0.300px;">2</div>
<div style="position:absolute;left:2767px;top:1098px;width:91px;height:52px;box-sizing:border-box;border:2px solid #e0dce5;border-radius:8px;background:#fff"></div>
<div class="t" style="left:2785.1px;top:1110.8px;font-size:25px;line-height:25px;font-weight:700;color:#3e3446;letter-spacing:-0.967px;">View</div>
<div style="position:absolute;left:198px;top:1200px;width:2694px;height:178px;box-sizing:border-box;border:2px solid #e0dce5;border-radius:12px;background:#fff"></div>
<div style="position:absolute;left:792px;top:1202px;width:2098px;height:88px;box-sizing:border-box;background:#f6f6f8;border-top-right-radius:10px"></div>
<div style="position:absolute;left:790px;top:1202px;width:2px;height:174px;box-sizing:border-box;background:#e0dce5"></div>
<div style="position:absolute;left:792px;top:1290px;width:2098px;height:2px;box-sizing:border-box;background:#e0dce5"></div>
<div class="t" style="left:231.9px;top:1235.4px;font-size:36px;line-height:36px;font-weight:400;color:#2159d5;letter-spacing:0.680px;">25.5.3</div>
<div class="t" style="left:231.6px;top:1282.1px;font-size:28px;line-height:28px;font-weight:400;color:#2b2233;letter-spacing:0.522px;">application.monitoring.ja…</div>
<div class="t" style="left:232.6px;top:1317.8px;font-size:22px;line-height:22px;font-weight:400;color:#2b2233;letter-spacing:1.122px;"><span style="border-bottom:2px dotted #6e6178;padding-bottom:0px">4 days ago</span></div>
<div style="position:absolute;left:360px;top:1316px;width:2px;height:26px;box-sizing:border-box;background:#2b2233"></div>
<div class="t" style="left:370.7px;top:1318.0px;font-size:22px;line-height:22px;font-weight:400;color:#2b2233;letter-spacing:2.167px;">production</div>
<svg style="position:absolute;left:712px;top:1234px" width="42" height="42" viewBox="0 0 42 42"><defs><clipPath id="av"><circle cx="21" cy="21" r="21"/></clipPath></defs><g clip-path="url(#av)"><rect width="42" height="42" fill="#c6c2cb"/><path d="M-1,43 L-1,20 C1,8 9,2 15,2 C22,2 28,5 31.5,9 L31.5,28 L37,32 L43,39 L43,43 Z" fill="#cc8636"/><path d="M3,15 C7,6 15,2 21,2.5 C26,3.5 29,5.5 30.5,8 L23,10 C17,10.5 11,13.5 6,19 Z" fill="#d49f3c"/><path d="M7,26 C6,18 10,12 17,11 L31.5,9.9 L30.8,25.5 L22,28.5 L9,30 Z" fill="#2b2330"/><ellipse cx="18.5" cy="21.5" rx="6.8" ry="7.6" fill="#957d78"/><path d="M26.5,27 L27,41" stroke="#3a2f36" stroke-width="1.5"/><path d="M33,31 L41,38" stroke="#d8c23c" stroke-width="2.5"/></g></svg>
<div style="position:absolute;left:690px;top:1310px;width:68px;height:39px;box-sizing:border-box;border:2px solid #e0dce5;border-radius:20px;background:#f6f6fb"></div>
<svg style="position:absolute;left:700px;top:1310px" width="40" height="40" viewBox="0 0 40 40"><path d="M10.5,20.5L17.5,28.5L29.6,11" fill="none" stroke="#2a9a4a" stroke-width="2.6" stroke-linecap="round" stroke-linejoin="round"/></svg>
<div class="t" style="left:823.4px;top:1234.3px;font-size:24px;line-height:24px;font-weight:700;color:#71637e;letter-spacing:-0.677px;">PROJECT NAME</div>
<div class="t" style="left:1237.8px;top:1234.3px;font-size:24px;line-height:24px;font-weight:700;color:#71637e;letter-spacing:-0.571px;">ADOPTION</div>
<div class="t" style="left:1529.7px;top:1234.3px;font-size:24px;line-height:24px;font-weight:700;color:#3e3446;letter-spacing:2.100px;">24H</div>
<div class="t" style="left:1589.7px;top:1234.3px;font-size:24px;line-height:24px;font-weight:700;color:#71637e;letter-spacing:2.000px;">90D</div>
<div class="t" style="left:1838.0px;top:1234.3px;font-size:24px;line-height:24px;font-weight:700;color:#71637e;letter-spacing:-0.886px;">CRASH FREE RATE</div>
<div class="t" style="left:2234.0px;top:1234.3px;font-size:24px;line-height:24px;font-weight:700;color:#71637e;letter-spacing:-0.483px;">CRASHES</div>
<div class="t" style="left:2499.7px;top:1234.3px;font-size:24px;line-height:24px;font-weight:700;color:#71637e;letter-spacing:-0.856px;">NEW ISSUES</div>
<svg style="position:absolute;left:824px;top:1318px" width="32" height="32" viewBox="0 0 32 32"><rect width="32" height="32" rx="5" fill="#241d2b"/><g fill="none" stroke="#61dafb" stroke-width="1.1"><ellipse cx="16" cy="16" rx="13.5" ry="5"/><ellipse cx="16" cy="16" rx="13.5" ry="5" transform="rotate(60 16 16)"/><ellipse cx="16" cy="16" rx="13.5" ry="5" transform="rotate(120 16 16)"/></g><circle cx="16" cy="16" r="2.6" fill="#61dafb"/></svg>
<div class="t" style="left:867.4px;top:1319.8px;font-size:28px;line-height:28px;font-weight:400;color:#2159d5;letter-spacing:1.425px;">react</div>
<div class="t" style="left:1238.0px;top:1320.0px;font-size:28px;line-height:28px;font-weight:400;color:#2b2233;letter-spacing:0.500px;">100%</div>
<svg style="position:absolute;left:1323px;top:1329.7px;overflow:visible" width="316" height="24"><path d="M0.00,24V1.44Q0.00,-0.76 2.20,-0.76H7.20Q9.40,-0.76 9.40,1.44V24Z" fill="#9e97da"/><path d="M12.70,24V1.27Q12.70,-0.93 14.90,-0.93H19.90Q22.10,-0.93 22.10,1.27V24Z" fill="#9e97da"/><path d="M25.40,24V0.59Q25.40,-1.61 27.60,-1.61H32.60Q34.80,-1.61 34.80,0.59V24Z" fill="#9e97da"/><path d="M38.10,24V5.71Q38.10,3.51 40.30,3.51H45.30Q47.50,3.51 47.50,5.71V24Z" fill="#9e97da"/><path d="M50.80,24V1.78Q50.80,-0.42 53.00,-0.42H58.00Q60.20,-0.42 60.20,1.78V24Z" fill="#9e97da"/><path d="M63.50,24V2.12Q63.50,-0.08 65.70,-0.08H70.70Q72.90,-0.08 72.90,2.12V24Z" fill="#9e97da"/><path d="M76.20,24V1.44Q76.20,-0.76 78.40,-0.76H83.40Q85.60,-0.76 85.60,1.44V24Z" fill="#9e97da"/><path d="M88.90,24V2.64Q88.90,0.44 91.10,0.44H96.10Q98.30,0.44 98.30,2.64V24Z" fill="#9e97da"/><path d="M101.60,24V1.10Q101.60,-1.10 103.80,-1.10H108.80Q111.00,-1.10 111.00,1.10V24Z" fill="#9e97da"/><path d="M114.30,24V4.52Q114.30,2.32 116.50,2.32H121.50Q123.70,2.32 123.70,4.52V24Z" fill="#9e97da"/><path d="M127.00,24V1.10Q127.00,-1.10 129.20,-1.10H134.20Q136.40,-1.10 136.40,1.10V24Z" fill="#9e97da"/><path d="M139.70,24V1.27Q139.70,-0.93 141.90,-0.93H146.90Q149.10,-0.93 149.10,1.27V24Z" fill="#9e97da"/><path d="M152.40,24V1.78Q152.40,-0.42 154.60,-0.42H159.60Q161.80,-0.42 161.80,1.78V24Z" fill="#9e97da"/><path d="M165.10,24V-0.44Q165.10,-2.64 167.30,-2.64H172.30Q174.50,-2.64 174.50,-0.44V24Z" fill="#9e97da"/><path d="M177.80,24V1.44Q177.80,-0.76 180.00,-0.76H185.00Q187.20,-0.76 187.20,1.44V24Z" fill="#9e97da"/><path d="M190.50,24V4.52Q190.50,2.32 192.70,2.32H197.70Q199.90,2.32 199.90,4.52V24Z" fill="#9e97da"/><path d="M203.20,24V0.59Q203.20,-1.61 205.40,-1.61H210.40Q212.60,-1.61 212.60,0.59V24Z" fill="#9e97da"/><path d="M215.90,24V0.59Q215.90,-1.61 218.10,-1.61H223.10Q225.30,-1.61 225.30,0.59V24Z" fill="#9e97da"/><path d="M228.60,24V2.64Q228.60,0.44 230.80,0.44H235.80Q238.00,0.44 238.00,2.64V24Z" fill="#9e97da"/><path d="M241.30,24V5.54Q241.30,3.34 243.50,3.34H248.50Q250.70,3.34 250.70,5.54V24Z" fill="#9e97da"/><path d="M254.00,24V2.30Q254.00,0.10 256.20,0.10H261.20Q263.40,0.10 263.40,2.30V24Z" fill="#9e97da"/><path d="M266.70,24V3.49Q266.70,1.29 268.90,1.29H273.90Q276.10,1.29 276.10,3.49V24Z" fill="#9e97da"/><path d="M279.40,24V1.78Q279.40,-0.42 281.60,-0.42H286.60Q288.80,-0.42 288.80,1.78V24Z" fill="#9e97da"/><path d="M292.10,24V1.78Q292.10,-0.42 294.30,-0.42H299.30Q301.50,-0.42 301.50,1.78V24Z" fill="#9e97da"/><path d="M304.80,24V2.64Q304.80,0.44 307.00,0.44H312.00Q314.20,0.44 314.20,2.64V24Z" fill="#9e97da"/></svg>
<div class="t" style="left:1936.7px;top:1321.0px;font-size:28px;line-height:28px;font-weight:400;color:#2b2233;letter-spacing:0.733px;">93.679%</div>
<svg style="position:absolute;left:1895px;top:1320px" width="24" height="29" viewBox="0 0 24 29"><path d="M13.9,2.4 C10.3,4.2 8.6,7.5 8.3,11 L7.6,15.6 L5.4,11 C2.8,13.2 1.8,15.8 1.8,18.6 C1.8,23.5 6.4,26.9 12.1,26.9 C17.9,26.9 22.4,23.1 22.4,18 C22.4,14.2 21.2,11.2 19.6,8 L16.3,12.6 Z" fill="none" stroke="#d1202a" stroke-width="2.4" stroke-linejoin="round"/></svg>
<div class="t" style="left:2298.3px;top:1321.0px;font-size:28px;line-height:28px;font-weight:400;color:#2159d5;letter-spacing:2.000px;">20k</div>
<div class="t" style="left:2608.3px;top:1321.0px;font-size:28px;line-height:28px;font-weight:400;color:#2159d5;letter-spacing:3.400px;">34</div>
<div style="position:absolute;left:2767px;top:1308px;width:91px;height:52px;box-sizing:border-box;border:2px solid #e0dce5;border-radius:8px;background:#fff"></div>
<div class="t" style="left:2785.1px;top:1320.8px;font-size:25px;line-height:25px;font-weight:700;color:#3e3446;letter-spacing:-0.967px;">View</div>
    </body></html>
